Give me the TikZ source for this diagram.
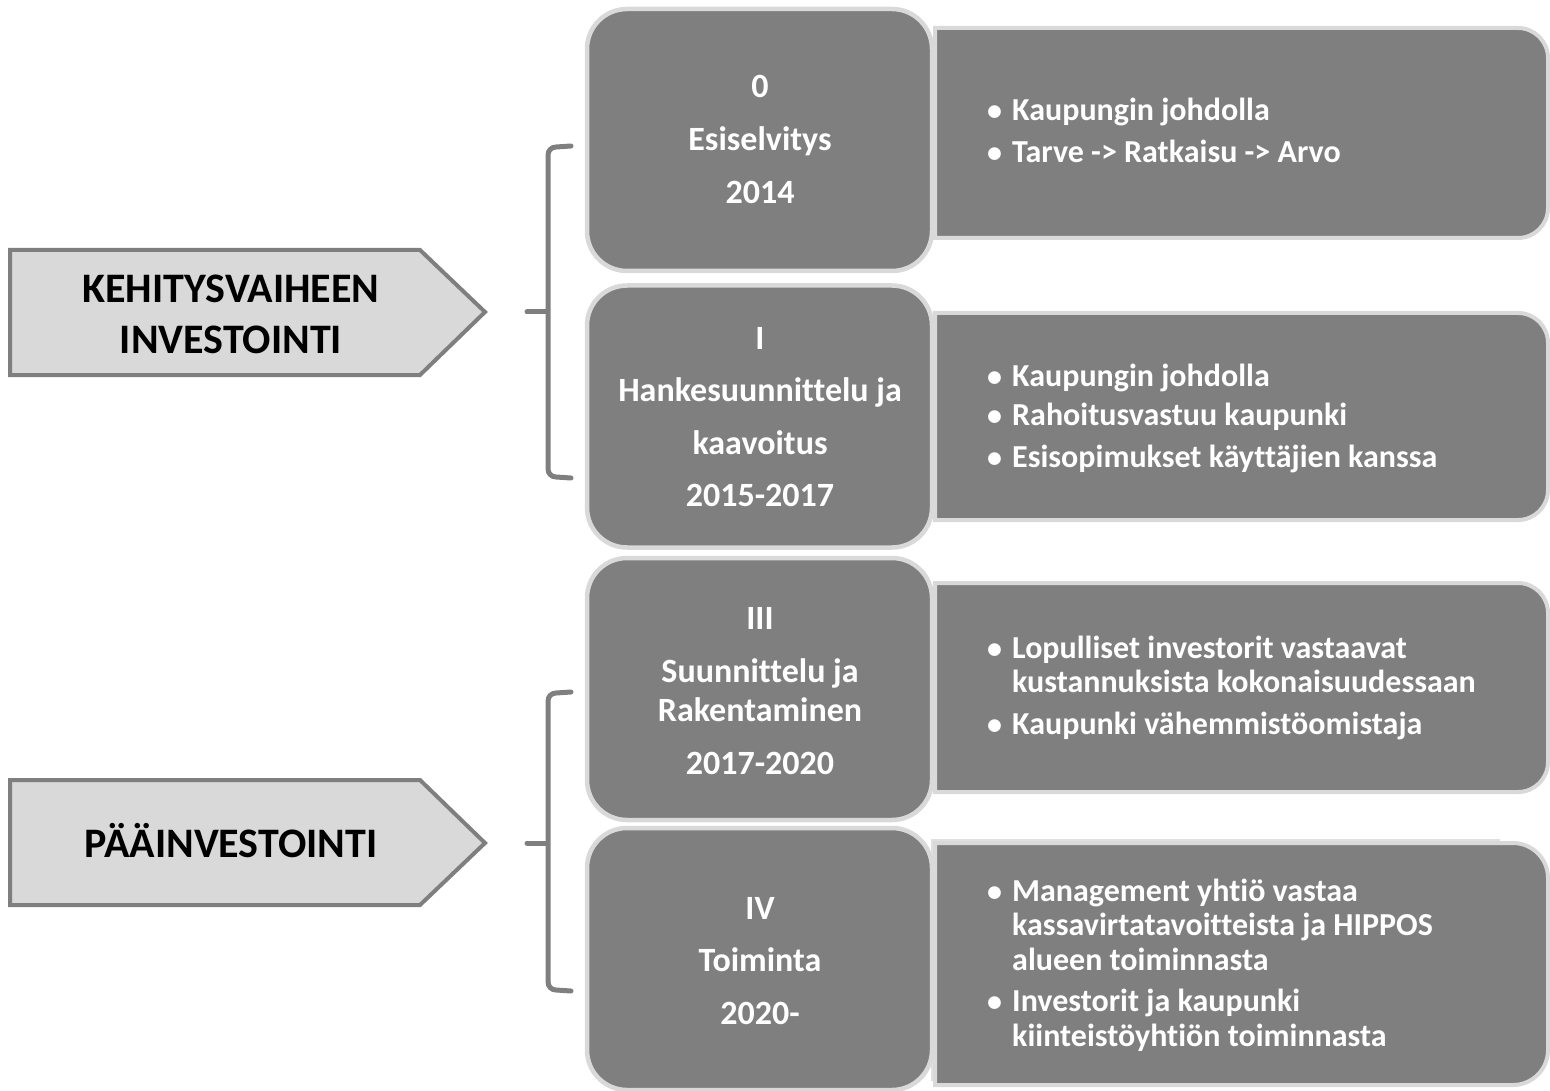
\documentclass[tikz,border=0pt]{standalone}
\usepackage{fontspec}
\setmainfont{Carlito}[Ligatures=NoCommon]
\definecolor{boxgray}{HTML}{7F7F7F}
\definecolor{edgegray}{HTML}{D9D9D9}
\tikzset{
  stagebox/.style={draw=edgegray, line width=4.5pt, fill=boxgray, rounded corners=40pt, minimum width=345pt, minimum height=262pt, inner sep=0pt},
  cbox/.style={draw=edgegray, line width=4pt, fill=boxgray},
  arrowshape/.style={draw=boxgray, line width=4pt, fill=edgegray},
  brk/.style={draw=boxgray, line width=5pt, line cap=round},
  stagetxt/.style={anchor=base, inner sep=0pt, text=white, font=\fontsize{34}{40}\selectfont\bfseries},
  itemtxt/.style={anchor=base west, inner sep=0pt, text=white, font=\fontsize{32}{38}\selectfont\bfseries},
  bul/.style={anchor=base west, inner sep=0pt, text=white, font=\fontsize{30}{36}\selectfont\bfseries},
  arrtxt/.style={anchor=base, inner sep=0pt, text=black, font=\fontsize{42}{48}\selectfont\bfseries}
}
\begin{document}
\begin{tikzpicture}[x=1pt,y=-1pt]
\useasboundingbox (0,0) rectangle (1550,1091);

% content boxes (square left, rounded right)
\draw[cbox] (935,28) -- (1518,28) arc[start angle=-90,end angle=0,radius=30] -- (1548,208) arc[start angle=0,end angle=90,radius=30] -- (935,238) -- cycle;
\draw[cbox] (935,313) -- (1518,313) arc[start angle=-90,end angle=0,radius=30] -- (1548,490) arc[start angle=0,end angle=90,radius=30] -- (935,520) -- cycle;
\draw[cbox] (935,583) -- (1518,583) arc[start angle=-90,end angle=0,radius=30] -- (1548,762) arc[start angle=0,end angle=90,radius=30] -- (935,792) -- cycle;
\fill[black!12] (931,839) rectangle (945,1081);
\fill[black!12] (931,839) rectangle (1500,847);
\draw[cbox] (935,843) -- (1513,843) arc[start angle=-90,end angle=0,radius=35] -- (1548,1050) arc[start angle=0,end angle=90,radius=35] -- (935,1085) -- cycle;

% stage boxes
\node[stagebox] (s0) at (759.5,140) {};
\node[stagebox] (s1) at (759.5,416.5) {};
\node[stagebox] (s2) at (759.5,689) {};
\node[stagebox] (s3) at (759.5,959) {};

% stage texts
\node[stagetxt] (s0a) at (760,98) {0};
\node[stagetxt] (s0b) at (760,151) {Esiselvitys};
\node[stagetxt] (s0c) at (760,204) {2014};

\node[stagetxt] (s1a) at (760,349) {I};
\node[stagetxt] (s1b) at (760,401) {Hankesuunnittelu ja};
\node[stagetxt] (s1c) at (760,454) {kaavoitus};
\node[stagetxt] (s1d) at (760,506) {2015-2017};

\node[stagetxt] (s2a) at (760,629) {III};
\node[stagetxt] (s2b) at (760,682) {Suunnittelu ja};
\node[stagetxt] (s2c) at (760,721) {Rakentaminen};
\node[stagetxt] (s2d) at (760,774) {2017-2020};

\node[stagetxt] (s3a) at (760,919) {IV};
\node[stagetxt] (s3b) at (760,971) {Toiminta};
\node[stagetxt] (s3c) at (760,1024) {2020-};

% content texts
\node[bul] (b0a) at (987,121) {\textbullet};
\node[itemtxt] (c0a) at (1012,121) {Kaupungin johdolla};
\node[bul] (b0b) at (987,163) {\textbullet};
\node[itemtxt] (c0b) at (1012,163) {Tarve -> Ratkaisu -> Arvo};

\node[bul] (b1a) at (987,386) {\textbullet};
\node[itemtxt] (c1a) at (1012,386) {Kaupungin johdolla};
\node[bul] (b1b) at (987,425) {\textbullet};
\node[itemtxt] (c1b) at (1012,425) {Rahoitusvastuu kaupunki};
\node[bul] (b1c) at (987,467) {\textbullet};
\node[itemtxt] (c1c) at (1012,467) {Esisopimukset käyttäjien kanssa};

\node[bul] (b2a) at (987,658) {\textbullet};
\node[itemtxt] (c2a) at (1012,658) {Lopulliset investorit vastaavat};
\node[itemtxt] (c2b) at (1012,692) {kustannuksista kokonaisuudessaan};
\node[bul] (b2c) at (987,734) {\textbullet};
\node[itemtxt] (c2c) at (1012,734) {Kaupunki vähemmistöomistaja};

\node[bul] (b3a) at (987,901) {\textbullet};
\node[itemtxt] (c3a) at (1012,901) {Management yhtiö vastaa};
\node[itemtxt] (c3b) at (1012,935) {kassavirtatavoitteista ja HIPPOS};
\node[itemtxt] (c3c) at (1012,970) {alueen toiminnasta};
\node[bul] (b3d) at (987,1011) {\textbullet};
\node[itemtxt] (c3d) at (1012,1011) {Investorit ja kaupunki};
\node[itemtxt] (c3e) at (1012,1046) {kiinteistöyhtiön toiminnasta};

% left arrows
\draw[arrowshape] (10,250) -- (420,250) -- (485,312) -- (420,375) -- (10,375) -- cycle;
\draw[arrowshape] (10,780) -- (420,780) -- (485,843) -- (420,905) -- (10,905) -- cycle;
\node[arrtxt] (a1a) at (231,302) {KEHITYSVAIHEEN};
\node[arrtxt] (a1b) at (231,353) {INVESTOINTI};
\node[arrtxt] (a2) at (231,857) {PÄÄINVESTOINTI};

% brackets
\draw[brk] (571,146) -- (556,147) to[out=180,in=90] (548,155) -- (548,469) to[out=-90,in=180] (556,477) -- (571,478);
\draw[brk] (527,312) -- (546,312);
\draw[brk] (571,692) -- (556,693) to[out=180,in=90] (548,701) -- (548,982) to[out=-90,in=180] (556,990) -- (571,991);
\draw[brk] (527,843) -- (546,843);
\end{tikzpicture}
\end{document}
